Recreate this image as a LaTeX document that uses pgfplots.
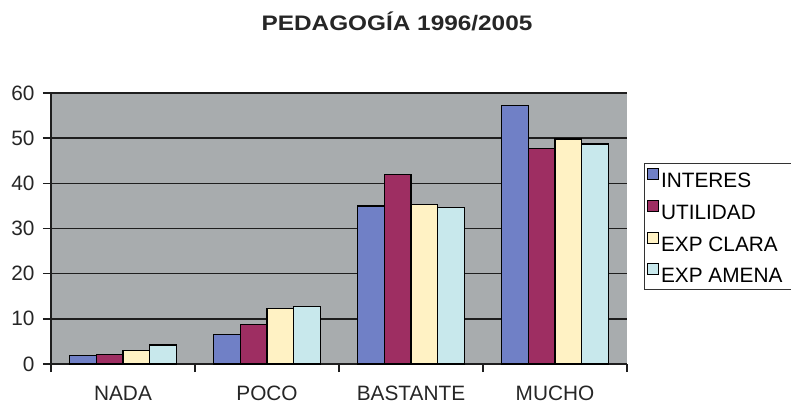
\documentclass[border=0pt]{standalone}
\usepackage{pgfplots}
\pgfplotsset{compat=1.18}
\usepackage{graphicx}
\usepackage{fontspec}
\setmainfont{Liberation Sans}
\definecolor{bgc}{RGB}{168,172,174}
\definecolor{cInt}{RGB}{112,128,198}
\definecolor{cUti}{RGB}{158,46,98}
\definecolor{cCla}{RGB}{255,242,196}
\definecolor{cAme}{RGB}{200,232,236}
\definecolor{gridc}{RGB}{30,30,30}
\begin{document}
\begin{tikzpicture}[x=1pt,y=1pt]
\begin{axis}[
  at={(51pt,40pt)}, anchor=south west,
  scale only axis, width=576pt, height=271pt,
  xmin=-0.5, xmax=3.5, ymin=0, ymax=60,
  axis x line*=bottom, axis y line*=left,
  axis line style={gridc, line width=1.4pt, -},
  axis background/.style={fill=bgc},
  ybar=0pt, bar width=0.186,
  xtick={-0.5,0.5,1.5,2.5,3.5},
  xticklabels={},
  extra x ticks={0,1,2,3},
  extra x tick labels={NADA,POCO,BASTANTE,MUCHO},
  extra x tick style={grid=none, xtick style={draw=none}, xticklabel style={yshift=-10.5pt}},
  ytick={0,10,...,60},
  ymajorgrids, major grid style={gridc, line width=1.4pt},
  tick align=outside, major tick length=8pt,
  xtick style={gridc, line width=1.4pt},
  ytick style={gridc, line width=1.4pt},
  tick label style={font=\fontsize{20.8}{24}\selectfont, text=black!85},
  /pgf/number format/assume math mode=true,
  yticklabel style={xshift=-5pt},
  legend style={at={(rel axis cs:1.0295,0.7417)}, anchor=north west,
    draw=black!80, line width=1.3pt, fill=white,
    font=\fontsize{20.8}{24}\selectfont,
    inner xsep=2pt, inner ysep=4.5pt, row sep=10pt,
    nodes={inner xsep=2.5pt, inner ysep=1pt, text height=14.5pt, text depth=1pt}},
  legend cell align=left,
  legend image code/.code={\draw[#1, line width=0.9pt] (0pt,1.5pt) rectangle (11pt,12.5pt);},
  every axis plot/.append style={draw=black, line width=1.2pt},
]
\addplot[fill=cInt] coordinates {(0,1.8) (1,6.6) (2,35.0) (3,57.3)};
\addplot[fill=cUti] coordinates {(0,2.1) (1,8.8) (2,42.0) (3,47.7)};
\addplot[fill=cCla] coordinates {(0,2.95) (1,12.3) (2,35.3) (3,49.8)};
\addplot[fill=cAme] coordinates {(0,4.2) (1,12.7) (2,34.7) (3,48.7)};
\legend{INTERES,UTILIDAD,EXP CLARA,EXP AMENA\hspace*{10pt}}
\end{axis}
\node[font=\fontsize{21}{25}\selectfont\bfseries, text=black!85] at (397,383) {\scalebox{1.16}[1]{PEDAGOGÍA 1996/2005}};
\pgfresetboundingbox
\path[use as bounding box] (0,0) rectangle (791,404);
\end{tikzpicture}
\end{document}
